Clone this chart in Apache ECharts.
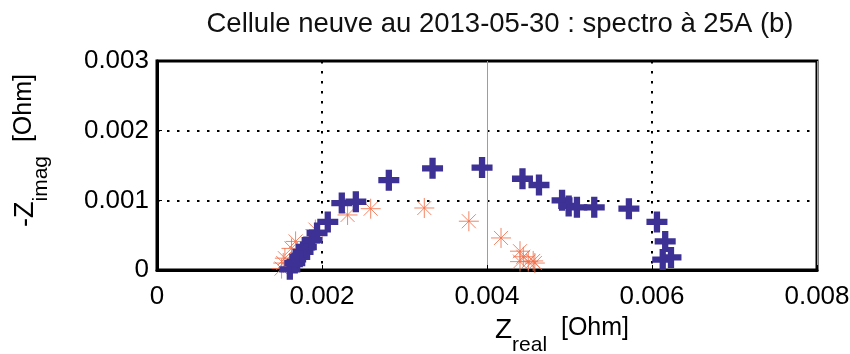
<!DOCTYPE html>
<html><head><meta charset="utf-8">
<script src="https://cdn.jsdelivr.net/npm/echarts@6/dist/echarts.min.js"></script>
<style>html,body{margin:0;padding:0;background:#fff}#c{width:850px;height:354px}</style>
</head><body><div id="c"></div>
<script>
var titleText = 'Cellule neuve au 2013-05-30 : spectro à 25A (b)';
var xTicks = [0, 0.002, 0.004, 0.006, 0.008];
var yTicks = [0, 0.001, 0.002, 0.003];
var blueX = [0.00161,0.00167,0.00173,0.00177,0.00181,0.00188,0.00194,0.00207,0.00224,0.00241,0.00281,0.00334,0.00394,0.00443,0.00463,0.00491,0.00499,0.00509,0.0053,0.00572,0.00606,0.00616,0.00613,0.00623];
var blueY = [0.00001,0.0001,0.00019,0.00026,0.00033,0.00043,0.00053,0.00069,0.00096,0.00098,0.00129,0.00146,0.00147,0.00131,0.00122,0.001,0.00092,0.0009,0.0009,0.00088,0.00069,0.00041,0.00015,0.00018];
var orangeX = [0.00151,0.00153,0.00155,0.00163,0.00168,0.00192,0.00231,0.00259,0.00324,0.00378,0.00417,0.0044,0.00444,0.0044,0.0045,0.00456,0.00458];
var orangeY = [0.00002,0.0001,0.00017,0.00031,0.00041,0.00058,0.00079,0.00088,0.00089,0.0007,0.00046,0.00027,0.00019,0.00012,0.00012,0.00013,0.0001];

function pairs(xs, ys){ return xs.map(function(x,i){ return [x, ys[i]]; }); }
var FONT = "'Liberation Sans', Arial, sans-serif";
var plusPath = 'path://M7,0h6v7h7v6h-7v7h-6v-7h-7v-6h7z';
var starPath = 'path://M0,10L20,10M10,0L10,20M3,3L17,17M17,3L3,17';
var fmt = function(v){ return String(Number(v.toFixed(3))); };
var DOTS = [2.5,7.5];

var chart = echarts.init(document.getElementById('c'));
chart.setOption({
  animation:false,
  backgroundColor:'#fff',
  title:{text:titleText, left:495, top:5, textAlign:'center',
    textStyle:{fontFamily:FONT, fontSize:27.5, fontWeight:'normal', color:'#111'}},
  grid:{left:157, right:33, top:61, bottom:84, outerBoundsMode:'none', containLabel:false,
    show:true, borderColor:'#000', borderWidth:3, backgroundColor:'transparent'},
  xAxis:[{type:'value', min:xTicks[0], max:xTicks[xTicks.length-1], interval:0.002, position:'bottom',
    axisLine:{show:true, onZero:false, lineStyle:{color:'#000', width:3}},
    axisTick:{show:true, inside:true, length:5, lineStyle:{color:'#000', width:1}},
    splitLine:{show:true, lineStyle:{color:['#000','#000','rgba(0,0,0,0)','#000','#000'], width:2, type:DOTS}},
    axisLabel:{fontFamily:FONT, fontSize:26, color:'#000', margin:14, formatter:fmt},
    name:'{z|Z}{s|real}{b|  [Ohm]}', nameLocation:'middle', nameGap:46,
    nameTextStyle:{padding:[0,0,0,150], rich:{
      z:{fontFamily:FONT, fontSize:28, color:'#000', verticalAlign:'top', lineHeight:40},
      s:{fontFamily:FONT, fontSize:21, color:'#000', verticalAlign:'bottom', lineHeight:40},
      b:{fontFamily:FONT, fontSize:25, color:'#000', verticalAlign:'top', lineHeight:40}}}
  },{type:'value', min:xTicks[0], max:xTicks[xTicks.length-1], interval:0.004, position:'top',
    axisLine:{show:false}, axisTick:{show:false}, axisLabel:{show:false},
    splitLine:{show:true, lineStyle:{color:'#9a9ab8', width:1, type:'solid'}}
  }],
  yAxis:{type:'value', min:yTicks[0], max:yTicks[yTicks.length-1], interval:0.001,
    axisLine:{show:true, onZero:false, lineStyle:{color:'#000', width:3}},
    axisTick:{show:true, inside:true, length:5, lineStyle:{color:'#000', width:1}},
    splitLine:{show:true, lineStyle:{color:'#000', width:2, type:DOTS}},
    axisLabel:{fontFamily:FONT, fontSize:26, color:'#000', margin:8, formatter:fmt},
    name:'{z|-Z}{s|imag}{b|  [Ohm]}', nameLocation:'middle', nameGap:105,
    nameTextStyle:{padding:[0,0,0,30], rich:{
      z:{fontFamily:FONT, fontSize:27, color:'#000', verticalAlign:'top', lineHeight:40},
      s:{fontFamily:FONT, fontSize:21, color:'#000', verticalAlign:'bottom', lineHeight:40},
      b:{fontFamily:FONT, fontSize:25, color:'#000', verticalAlign:'top', lineHeight:40}}}
  },
  series:[
    {type:'scatter', xAxisIndex:0, data:pairs(orangeX, orangeY), symbol:starPath, symbolSize:20, z:2,
      itemStyle:{color:'rgba(0,0,0,0)', borderColor:'#f2704a', borderWidth:1, opacity:0.85}},
    {type:'scatter', xAxisIndex:0, data:pairs(blueX, blueY), symbol:plusPath, symbolSize:21, z:3,
      itemStyle:{color:'#3d3195', opacity:1}}
  ]
});
</script></body></html>
